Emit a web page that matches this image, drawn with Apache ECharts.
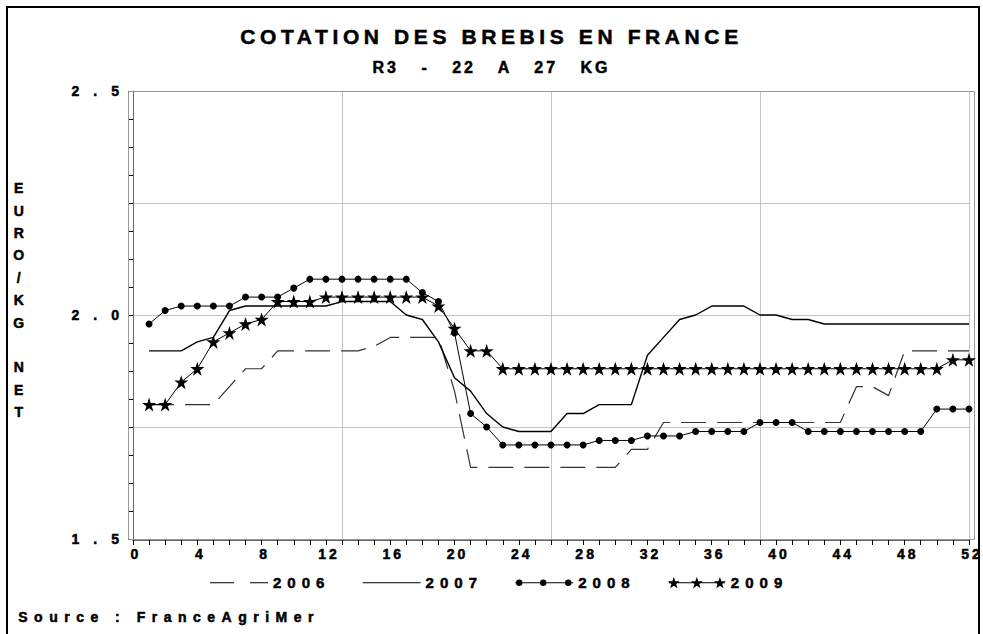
<!DOCTYPE html>
<html><head><meta charset="utf-8">
<script src="https://cdn.jsdelivr.net/npm/echarts@6/dist/echarts.min.js"></script>
<style>html,body{margin:0;padding:0;background:#fff}#main{width:983px;height:634px}</style>
</head><body><div id="main"></div>
<script>
// ---------- DATA ----------
const weeks = [1,2,3,4,5,6,7,8,9,10,11,12,13,14,15,16,17,18,19,20,21,22,23,24,25,26,
  27,28,29,30,31,32,33,34,35,36,37,38,39,40,41,42,43,44,45,46,47,48,49,50,51,52];
const seriesNames = ['2006','2007','2008','2009'];
const y2006 = [1.80,1.80,1.80,1.80,1.80,1.84,1.88,1.88,1.92,1.92,
  1.92,1.92,1.92,1.92,1.93,1.95,1.95,1.95,1.95,1.83,
  1.66,1.66,1.66,1.66,1.66,1.66,1.66,1.66,1.66,1.66,
  1.70,1.70,1.76,1.76,1.76,1.76,1.76,1.76,1.76,1.76,
  1.76,1.76,1.76,1.76,1.84,1.84,1.82,1.92,1.92,1.92,
  1.92,1.92];
const y2007 = [1.92,1.92,1.92,1.94,1.95,2.01,2.02,2.02,2.02,2.02,
  2.02,2.02,2.03,2.03,2.03,2.03,2.00,1.99,1.94,1.86,
  1.83,1.78,1.75,1.74,1.74,1.74,1.78,1.78,1.80,1.80,
  1.80,1.91,1.95,1.99,2.00,2.02,2.02,2.02,2.00,2.00,
  1.99,1.99,1.98,1.98,1.98,1.98,1.98,1.98,1.98,1.98,
  1.98,1.98];
const y2008 = [1.98,2.01,2.02,2.02,2.02,2.02,2.04,2.04,2.04,2.06,
  2.08,2.08,2.08,2.08,2.08,2.08,2.08,2.05,2.03,1.96,
  1.78,1.75,1.71,1.71,1.71,1.71,1.71,1.71,1.72,1.72,
  1.72,1.73,1.73,1.73,1.74,1.74,1.74,1.74,1.76,1.76,
  1.76,1.74,1.74,1.74,1.74,1.74,1.74,1.74,1.74,1.79,
  1.79,1.79];
const y2009 = [1.80,1.80,1.85,1.88,1.94,1.96,1.98,1.99,2.03,2.03,
  2.03,2.04,2.04,2.04,2.04,2.04,2.04,2.04,2.02,1.97,
  1.92,1.92,1.88,1.88,1.88,1.88,1.88,1.88,1.88,1.88,
  1.88,1.88,1.88,1.88,1.88,1.88,1.88,1.88,1.88,1.88,
  1.88,1.88,1.88,1.88,1.88,1.88,1.88,1.88,1.88,1.88,
  1.90,1.90];
const yLabelValues = [1.5, 2.0, 2.5];
const xLabelStep = 4;
const titleText = 'COTATION DES BREBIS EN FRANCE';
const subtitleText = 'R3 - 22 A 27 KG';
const yAxisName = 'EURO/KG NET';
const sourceText = 'Source : FranceAgriMer';

// ---------- STYLE / HELPERS ----------
const FF = '"Liberation Sans", Arial, sans-serif';
const TB = { textBorderColor: '#000', textBorderWidth: 0.5 };
const STAR = 'path://M50,0L61.2,34.5L97.6,34.5L68.2,55.9L79.4,90.5L50,69.1L20.6,90.5L31.8,55.9L2.4,34.5L38.8,34.5Z';
function starPath(cx, cy, r) {
  let d = '';
  for (let k = 0; k < 10; k++) {
    const rr = k % 2 === 0 ? r : r * 0.4;
    const a = -Math.PI / 2 + k * Math.PI / 5;
    d += (k === 0 ? 'M' : 'L') + (cx + rr * Math.cos(a)).toFixed(2) + ',' + (cy + rr * Math.sin(a)).toFixed(2);
  }
  return d + 'Z';
}
function circlePath(cx, cy, r) {
  return 'M' + (cx - r) + ',' + cy + 'a' + r + ',' + r + ' 0 1,1 ' + (2 * r) + ',0a' + r + ',' + r + ' 0 1,1 ' + (-2 * r) + ',0Z';
}
const IW = 58, IH = 14;
const anchors = 'M0,0h0.01v0.01h-0.01zM' + (IW - 0.01) + ',' + (IH - 0.01) + 'h0.01v0.01h-0.01z';
const lineSeg = 'M0,6.5h' + IW + 'v1h-' + IW + 'z';
const icons = {
  '2006': 'path://' + anchors + 'M0,6.5h24v1h-24zM40,6.5h18v1h-18z',
  '2007': 'path://' + anchors + lineSeg,
  '2008': 'path://' + anchors + lineSeg + circlePath(4, 7, 3.2) + circlePath(28, 7, 3.2) + circlePath(53, 7, 3.2),
  '2009': 'path://' + anchors + lineSeg + starPath(5, 7.5, 6.5) + starPath(29, 7.5, 6.5) + starPath(53, 7.5, 6.5)
};
function pairs(arr) { return weeks.map((w, i) => [w, arr[i]]); }

const chart = echarts.init(document.getElementById('main'), null, { renderer: 'svg' });
const option = {
  animation: false,
  backgroundColor: '#fff',
  title: [
    { text: titleText, left: 'center', top: 21,
      textStyle: Object.assign({ fontFamily: FF, fontWeight: 'bold', fontSize: 21, color: '#000' }, TB) },
    { text: subtitleText, left: 'center', top: 54,
      textStyle: Object.assign({ fontFamily: FF, fontWeight: 'bold', fontSize: 16, color: '#000' }, TB) }
  ],
  grid: { left: 133, right: 10, top: 91, bottom: 95, containLabel: false },
  legend: {
    left: 205, top: 570, itemWidth: IW, itemHeight: IH, itemGap: 56, selectedMode: false,
    itemStyle: { borderWidth: 0 },
    textStyle: Object.assign({ fontFamily: FF, fontWeight: 'bold', fontSize: 15, color: '#000' }, TB),
    data: seriesNames.map(n => ({ name: n, icon: icons[n] }))
  },
  xAxis: [
    { type: 'value', min: 0, max: 52, interval: xLabelStep, offset: 1,
      axisLine: { show: true, lineStyle: { color: '#666', width: 1 } },
      axisTick: { show: true, length: 5, lineStyle: { color: '#000' } },
      minorTick: { show: true, splitNumber: 4, length: 5, lineStyle: { color: '#000' } },
      splitLine: { show: false },
      axisLabel: Object.assign({ fontFamily: FF, fontWeight: 'bold', fontSize: 14, color: '#000', margin: 7,
        padding: [0, 0, 0, 6] }, TB) },
    { type: 'value', min: 0, max: 52, interval: 13, position: 'bottom',
      axisLine: { show: false }, axisTick: { show: false }, axisLabel: { show: false },
      splitLine: { show: true, lineStyle: { color: '#c4c4c4', width: 1 } } }
  ],
  yAxis: {
    type: 'value', min: 1.5, max: 2.5, interval: 0.25, offset: 5,
    axisLine: { show: true, lineStyle: { color: '#666', width: 1 } },
    axisTick: { show: true, length: 5, lineStyle: { color: '#000' } },
    minorTick: { show: true, splitNumber: 4, length: 5, lineStyle: { color: '#000' } },
    splitLine: { show: true, lineStyle: { color: '#c4c4c4', width: 1 } },
    axisLabel: Object.assign({ fontFamily: FF, fontWeight: 'bold', fontSize: 14, color: '#000', margin: -5,
      formatter: v => yLabelValues.some(t => Math.abs(t - v) < 1e-6) ? v.toFixed(1) : '' }, TB)
  },
  graphic: [
    { type: 'rect', silent: true, z: 1, shape: { x: 7, y: 7, width: 972, height: 660 },
      style: { fill: 'none', stroke: '#000', lineWidth: 2 } },
    { type: 'rect', silent: true, z: 1, shape: { x: 128.5, y: 91.5, width: 846, height: 448 },
      style: { fill: 'none', stroke: '#999', lineWidth: 1 } },
    { type: 'text', silent: true, left: 13, top: 177,
      style: { text: yAxisName.replace(' ', '\n').split('').join('\n').replace(/\n\n\n/, '\n\n'),
        font: 'bold 14px ' + FF, fill: '#000', stroke: '#000', lineWidth: 0.5,
        lineHeight: 22.4, textAlign: 'center' } },
    { type: 'text', silent: true, left: 18, top: 610,
      style: { text: sourceText, font: 'bold 14px ' + FF, fill: '#000', stroke: '#000', lineWidth: 0.5 } }
  ],
  series: [
    { name: '2006', type: 'line', data: pairs(y2006), symbol: 'none', silent: true,
      color: '#000', lineStyle: { color: '#333', width: 1.2, type: [25, 11] }, z: 2 },
    { name: '2007', type: 'line', data: pairs(y2007), symbol: 'none', silent: true,
      color: '#000', lineStyle: { color: '#000', width: 1.4 }, z: 3 },
    { name: '2008', type: 'line', data: pairs(y2008), symbol: 'circle', symbolSize: 7, showAllSymbol: true,
      silent: true, color: '#000', itemStyle: { color: '#000', borderWidth: 0 },
      lineStyle: { color: '#000', width: 1 }, z: 4 },
    { name: '2009', type: 'line', data: pairs(y2009), symbol: STAR, symbolSize: 14, showAllSymbol: true,
      silent: true, color: '#000', itemStyle: { color: '#000', borderWidth: 0 },
      lineStyle: { color: '#000', width: 1 }, z: 5 }
  ]
};
chart.setOption(option);

function applySpacing() {
  document.querySelectorAll('#main text').forEach(t => {
    const s = t.textContent.trim();
    let ls = null, ws = null;
    if (s === titleText) ls = '4.6px';
    else if (s === subtitleText) { ls = '3px'; ws = '15px'; }
    else if (s === sourceText) ls = '6.5px';
    else if (seriesNames.includes(s)) ls = '6px';
    else if (/^\d\.\d$/.test(s)) ls = '14px';
    else if (/^\d+$/.test(s)) ls = '3px';
    if (ls) t.style.letterSpacing = ls;
    if (ws) t.style.wordSpacing = ws;
  });
}
applySpacing();
chart.on('finished', applySpacing);
setTimeout(applySpacing, 50);
</script></body></html>
